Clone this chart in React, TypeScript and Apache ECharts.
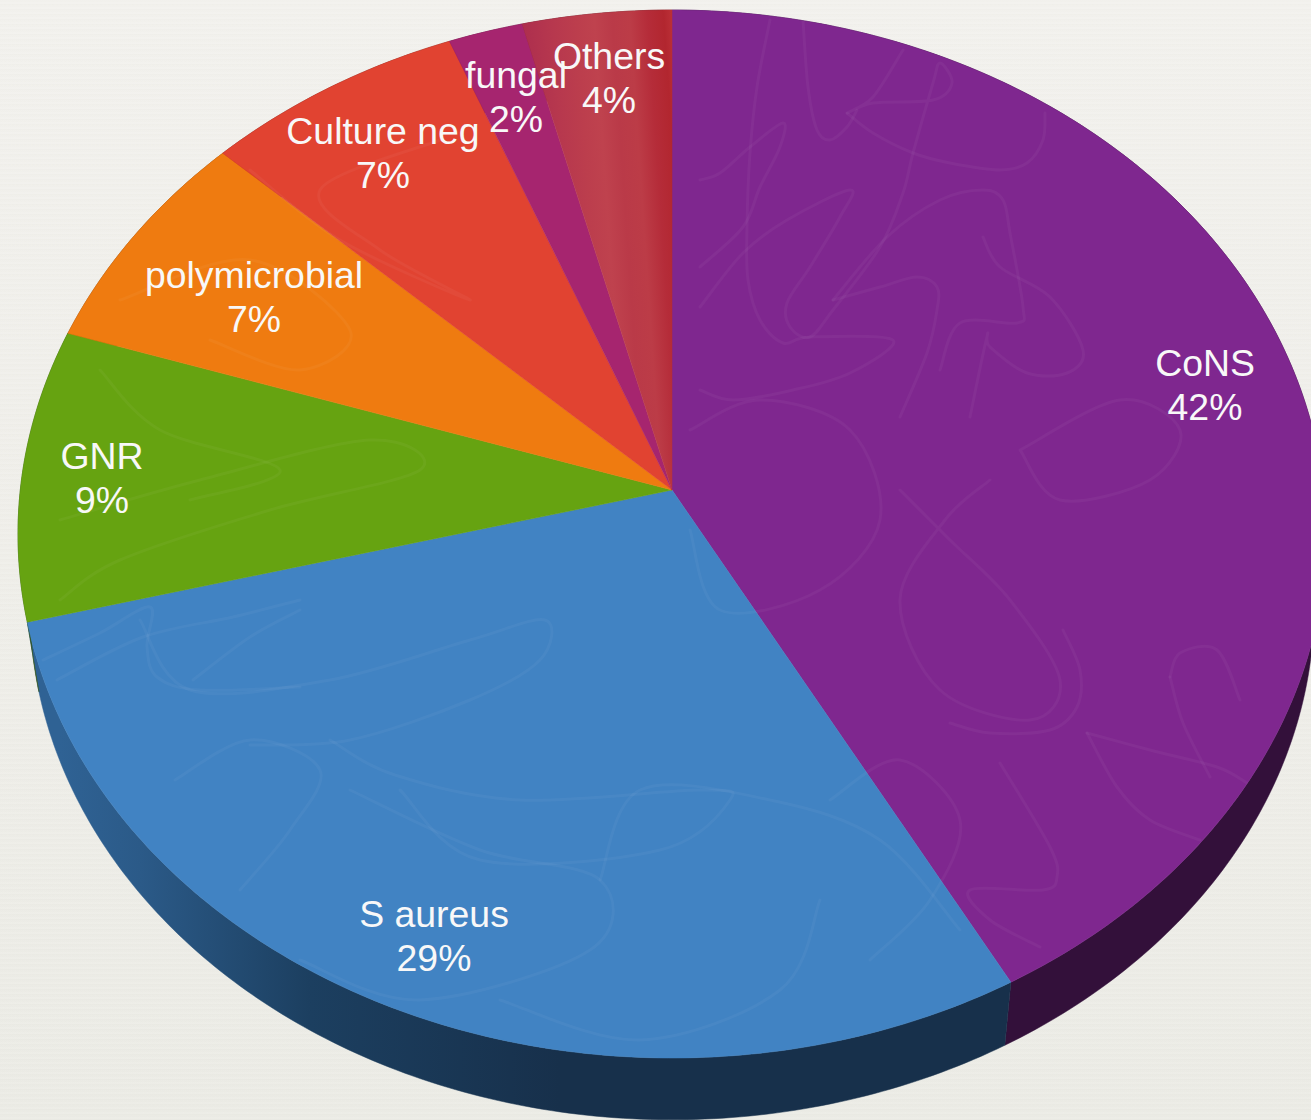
import React, { useEffect, useRef } from "react";
import * as echarts from "echarts";

// Share of each organism, in drawing order clockwise from twelve o'clock.
const categories = ["CoNS", "S aureus", "GNR", "polymicrobial", "Culture neg", "fungal", "Others"];
const shares = [42, 29, 9, 7, 7, 2, 4];

const faceColors: any[] = [
  "#7f278f",
  "#4183c3",
  "#66a311",
  "#ef7b10",
  "#e14331",
  "#a6256f",
  new echarts.graphic.LinearGradient(
    525, 40, 672, 30,
    [
      { offset: 0, color: "#ae2f4e" },
      { offset: 0.2, color: "#b7384e" },
      { offset: 0.36, color: "#bc3e4d" },
      { offset: 0.48, color: "#bf424e" },
      { offset: 0.6, color: "#ba3a48" },
      { offset: 0.72, color: "#bc3c47" },
      { offset: 0.84, color: "#b52c39" },
      { offset: 0.95, color: "#b2262f" },
      { offset: 1, color: "#ba2f36" },
    ],
    true
  ),
];

const wallColors: any[] = [
  "#33103a",
  new echarts.graphic.LinearGradient(
    60, 0, 560, 0,
    [
      { offset: 0, color: "#2f6294" },
      { offset: 0.16, color: "#2b5a88" },
      { offset: 0.5, color: "#1c3f60" },
      { offset: 1, color: "#17304b" },
    ],
    true
  ),
  "#33551a",
  "#7a4010",
  "#70221a",
  "#521238",
  "#5a141c",
];

// Centre of each text block on the page.
const labelCentres = [
  [1205, 385],
  [434, 936],
  [102, 478],
  [254, 297],
  [383, 153],
  [516, 97],
  [609, 78],
];

// Faint pen marks printed on the pie's top face.
const scribbles: number[][][] = [
  [[803, 20], [808, 87], [817, 130], [830, 140], [847, 127], [857, 110]],
  [[847, 113], [873, 133], [913, 153], [950, 163], [1000, 170], [1027, 163], [1043, 140], [1045, 113]],
  [[770, 20], [757, 87], [750, 153], [747, 227], [748, 280], [760, 320], [783, 343], [810, 337], [893, 340], [850, 373], [793, 390], [733, 400], [700, 390]],
  [[700, 180], [720, 173], [750, 147], [783, 123], [780, 147], [760, 187], [743, 227], [700, 267]],
  [[700, 307], [743, 253], [787, 220], [850, 190], [840, 217], [810, 267], [787, 303], [790, 327], [810, 337], [833, 310], [880, 247], [903, 193], [913, 153], [933, 83], [940, 63], [952, 83], [933, 100], [873, 103], [847, 113], [873, 97], [903, 50]],
  [[833, 300], [880, 287], [917, 277], [937, 287], [937, 310], [927, 353], [900, 417]],
  [[833, 300], [887, 237], [940, 200], [983, 190], [1003, 200], [1010, 233], [1023, 307], [1017, 323], [960, 323], [940, 370]],
  [[983, 237], [1000, 267], [1050, 297], [1083, 350], [1067, 373], [1027, 373], [990, 347], [987, 337], [970, 417]],
  [[1020, 450], [1120, 400], [1180, 430], [1150, 480], [1060, 500], [1020, 450]],
  [[900, 490], [950, 540], [1010, 600], [1060, 680], [1030, 720], [940, 690], [900, 600], [945, 520], [990, 480]],
  [[1000, 763], [1050, 847], [1057, 877], [1043, 890], [970, 890], [990, 920], [1040, 947]],
  [[1087, 733], [1117, 787], [1150, 820], [1200, 840]],
  [[1087, 733], [1150, 750], [1217, 767], [1247, 783]],
  [[950, 723], [990, 733], [1050, 730], [1077, 707], [1080, 670], [1063, 630]],
  [[1170, 677], [1180, 653], [1217, 650], [1240, 700]],
  [[1170, 677], [1183, 723], [1210, 777]],
  [[830, 800], [900, 760], [960, 820], [930, 900], [870, 960]],
  [[690, 430], [760, 400], [850, 430], [880, 520], [820, 590], [720, 610], [690, 530]],
  [[43, 660], [100, 633], [150, 607], [147, 647], [157, 677], [200, 690], [300, 687]],
  [[57, 680], [143, 637], [233, 617], [300, 600]],
  [[193, 680], [250, 637], [300, 610]],
  [[140, 620], [190, 690], [330, 680], [470, 640], [545, 620], [540, 660], [470, 700], [350, 740], [250, 745]],
  [[330, 740], [395, 775], [520, 800], [700, 790], [730, 800], [660, 850], [480, 860], [400, 790]],
  [[175, 780], [250, 740], [320, 770], [290, 830], [240, 890]],
  [[350, 790], [480, 850], [600, 880], [590, 950], [420, 1000], [300, 960]],
  [[600, 880], [640, 790], [770, 800], [880, 840], [960, 930]],
  [[500, 1000], [640, 1040], [780, 990], [820, 900]],
  [[60, 520], [200, 480], [370, 440], [420, 470], [270, 510], [120, 560], [60, 600]],
  [[100, 370], [160, 430], [280, 470], [190, 500]],
  [[120, 300], [250, 260], [350, 330], [300, 370], [210, 340]],
  [[250, 170], [340, 240], [470, 300], [380, 250], [320, 190], [440, 140]],
];

// Tilted-disc projection: a unit circle seen in perspective, apex off the ellipse centre.
const APEX_X = 672;
const APEX_Y = 490;
const RADIUS_X = 651.7;
const RADIUS_Y = 520.3;
const TILT = -0.084;
const BASE_SCALE = 0.982;
const BASE_APEX_Y = 562;
const FONT_SIZE = 37.4;
const LINE_HEIGHT = 44;

const project = (turn: number, scale = 1, apexY = APEX_Y): number[] => {
  const a = turn * 2 * Math.PI;
  const ux = Math.sin(a);
  const uy = -Math.cos(a);
  const w = 1 + TILT * uy;
  return [APEX_X + (scale * RADIUS_X * ux) / w, apexY + (scale * RADIUS_Y * uy) / w];
};

const total = shares.reduce((s, v) => s + v, 0);
const sliceBounds = (index: number): [number, number] => {
  const before = shares.slice(0, index).reduce((s, v) => s + v, 0);
  return [before / total, (before + shares[index]) / total];
};

const arcPoints = (from: number, to: number, scale = 1, apexY = APEX_Y): number[][] => {
  const steps = Math.max(2, Math.ceil((to - from) * 480));
  const pts: number[][] = [];
  for (let i = 0; i <= steps; i++) pts.push(project(from + ((to - from) * i) / steps, scale, apexY));
  return pts;
};

// Catmull-Rom spline through the pen points, written as cubic Bézier path data.
const smoothPath = (pts: number[][]): string => {
  let d = `M${pts[0][0]} ${pts[0][1]}`;
  for (let i = 0; i < pts.length - 1; i++) {
    const p0 = pts[Math.max(0, i - 1)];
    const p1 = pts[i];
    const p2 = pts[i + 1];
    const p3 = pts[Math.min(pts.length - 1, i + 2)];
    const c1 = [p1[0] + (p2[0] - p0[0]) / 6, p1[1] + (p2[1] - p0[1]) / 6];
    const c2 = [p2[0] - (p3[0] - p1[0]) / 6, p2[1] - (p3[1] - p1[1]) / 6];
    d += `C${c1[0].toFixed(1)} ${c1[1].toFixed(1)} ${c2[0].toFixed(1)} ${c2[1].toFixed(1)} ${p2[0]} ${p2[1]}`;
  }
  return d;
};

const buildOption = () => {
  const sliceData = shares.map((v, i) => ({ name: categories[i], value: v }));
  const facePoints = arcPoints(0, 1);
  return {
    animation: false,
    series: [
      {
        type: "custom",
        coordinateSystem: "none",
        silent: true,
        z: 1,
        data: sliceData,
        renderItem: (params: any) => {
          const [from, to] = sliceBounds(params.dataIndex);
          const upper = arcPoints(from, to);
          const lower = arcPoints(from, to, BASE_SCALE, BASE_APEX_Y).reverse();
          const fill = wallColors[params.dataIndex];
          return {
            type: "polygon",
            shape: { points: upper.concat(lower) },
            style: { fill, stroke: fill, lineWidth: 0.5 },
          };
        },
      },
      {
        type: "custom",
        coordinateSystem: "none",
        silent: true,
        z: 2,
        data: sliceData,
        renderItem: (params: any) => {
          const [from, to] = sliceBounds(params.dataIndex);
          const fill = faceColors[params.dataIndex];
          return {
            type: "polygon",
            shape: { points: [[APEX_X, APEX_Y], ...arcPoints(from, to)] },
            style: { fill, stroke: fill, lineWidth: 0.5 },
          };
        },
      },
      {
        type: "custom",
        coordinateSystem: "none",
        silent: true,
        z: 3,
        data: scribbles.map((_, i) => i),
        renderItem: (params: any) => ({
          type: "path",
          shape: { pathData: smoothPath(scribbles[params.dataIndex]) },
          clipPath: { type: "polygon", shape: { points: facePoints } },
          style: {
            fill: "none",
            stroke: "rgba(255,255,255,0.04)",
            lineWidth: 3,
            lineCap: "round",
            lineJoin: "round",
          },
        }),
      },
      {
        type: "custom",
        coordinateSystem: "none",
        silent: true,
        z: 4,
        data: sliceData,
        renderItem: (params: any) => {
          const i = params.dataIndex;
          return {
            type: "text",
            x: labelCentres[i][0],
            y: labelCentres[i][1],
            style: {
              text: `${categories[i]}\n${shares[i]}%`,
              fill: "#f8f8f8",
              fontFamily: '"Liberation Sans", Arial, sans-serif',
              fontSize: FONT_SIZE,
              lineHeight: LINE_HEIGHT,
              align: "center",
              verticalAlign: "middle",
            },
          };
        },
      },
    ],
  };
};

// Woven-paper backdrop behind the chart.
const paperStyle: React.CSSProperties = {
  position: "fixed",
  left: 0,
  top: 0,
  width: 1311,
  height: 1120,
  overflow: "hidden",
  background:
    "repeating-linear-gradient(0deg, rgba(120,120,105,0.025) 0 1px, rgba(255,255,255,0.03) 1px 3px, rgba(120,120,105,0.012) 3px 5px), linear-gradient(180deg, #f3f2ee 0%, #f0efea 50%, #ecece6 100%)",
};

export default function App() {
  const ref = useRef<HTMLDivElement>(null);
  useEffect(() => {
    if (!ref.current) return;
    const chart = echarts.init(ref.current, undefined, { renderer: "svg" });
    chart.setOption(buildOption() as any);
    return () => chart.dispose();
  }, []);
  return (
    <div style={paperStyle}>
      <div ref={ref} style={{ width: 1311, height: 1120 }} />
    </div>
  );
}
